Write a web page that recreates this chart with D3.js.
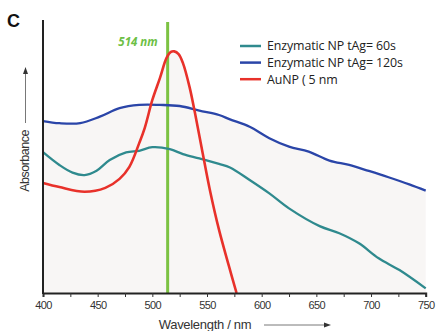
<!DOCTYPE html>
<html>
<head>
<meta charset="utf-8">
<script src="https://cdn.jsdelivr.net/npm/d3@7"></script>
<style>
  body { margin: 0; background: #fff; }
  svg { display: block; }
  text { font-family: "Open Sans", "Noto Sans", sans-serif; }
</style>
</head>
<body>
<script>
var width = 438, height = 331;
var margin = {top: 20, right: 12, bottom: 38, left: 43};

// wavelength (nm) / absorbance (a.u.)
var wl60 = [400, 415, 427, 438, 449, 461, 476, 488, 500, 516, 528, 543, 561, 571, 589, 607, 625, 653, 671, 689, 707, 726, 750];
var abs60 = [51.6, 46.9, 44.1, 43.2, 44.8, 48.7, 51.5, 52.1, 53.4, 52.7, 50.9, 49.3, 47.3, 46.0, 41.4, 36.5, 31.0, 24.5, 21.9, 18.2, 12.7, 8.4, 1.7];

var wl120 = [400, 415, 434, 452, 470, 488, 507, 525, 543, 561, 571, 589, 607, 625, 643, 662, 680, 698, 716, 735, 750];
var abs120 = [63.0, 62.2, 62.2, 64.6, 67.7, 68.9, 68.9, 68.5, 66.8, 65.2, 63.6, 60.9, 56.7, 53.6, 51.8, 48.5, 46.9, 44.7, 42.4, 39.8, 37.5];

var wlAu = [400, 415, 438, 457, 470, 479, 488, 493, 500, 507, 513, 517, 520, 524, 528, 534, 539, 546, 553, 561, 570, 577];
var absAu = [40.3, 38.8, 37.1, 38.5, 41.8, 46.2, 54.9, 60.4, 70.7, 78.8, 86.1, 88.3, 88.5, 87.5, 84.2, 75.5, 65.9, 51.3, 37.0, 23.1, 9.9, 0];

var seriesNames = ["Enzymatic NP tAg= 60s", "Enzymatic NP tAg= 120s", "AuNP ( 5 nm"];
var seriesColors = ["#2f8a8e", "#2a45a8", "#e8312a"];
var xTicks = [400, 450, 500, 550, 600, 650, 700, 750];
var peakWl = 514;

var series = [
  {name: seriesNames[0], color: seriesColors[0], pts: wl60.map((w, i) => [w, abs60[i]])},
  {name: seriesNames[1], color: seriesColors[1], pts: wl120.map((w, i) => [w, abs120[i]])},
  {name: seriesNames[2], color: seriesColors[2], pts: wlAu.map((w, i) => [w, absAu[i]])}
];

var svg = d3.select("body").append("svg")
    .attr("width", width)
    .attr("height", height);

var x = d3.scaleLinear().domain([400, 750]).range([margin.left, width - margin.right - 0.3]);
var y = d3.scaleLinear().domain([0, 100]).range([height - margin.bottom, margin.top]);

var area = d3.area()
    .x(d => x(d[0]))
    .y0(y(0))
    .y1(d => y(d[1]))
    .curve(d3.curveCatmullRom);

var line = d3.line()
    .x(d => x(d[0]))
    .y(d => y(d[1]))
    .curve(d3.curveCatmullRom);

// light fill under all curves
svg.selectAll(".fill")
    .data(series)
    .enter()
    .append("path")
    .attr("class", "fill")
    .attr("d", d => area(d.pts))
    .attr("fill", "#f8f6f5");

// green marker line
svg.append("line")
    .attr("x1", x(peakWl)).attr("x2", x(peakWl))
    .attr("y1", 22).attr("y2", y(0))
    .attr("stroke", "#7cc242")
    .attr("stroke-width", 3);

svg.append("text")
    .attr("x", x(peakWl) - 10)
    .attr("y", 45.5)
    .attr("text-anchor", "end")
    .attr("fill", "#6dbf45")
    .style("font-size", "11.5px")
    .style("font-weight", "bold")
    .style("font-style", "italic")
    .text(peakWl + " nm");

svg.selectAll(".curve")
    .data(series)
    .enter()
    .append("path")
    .attr("class", "curve")
    .attr("d", d => line(d.pts))
    .attr("fill", "none")
    .attr("stroke", d => d.color)
    .attr("stroke-width", (d, i) => i == 2 ? 2.6 : 2.3);

// axes
var xAxis = d3.axisBottom(x)
    .tickValues(d3.range(400, 751, 25))
    .tickSize(4)
    .tickFormat(d => xTicks.indexOf(d) >= 0 ? d : "");

var gx = svg.append("g")
    .attr("transform", "translate(0," + y(0) + ")")
    .call(xAxis);
gx.select(".domain").attr("stroke", "#222").attr("stroke-width", 2);
gx.selectAll(".tick line").attr("stroke", "#333").attr("stroke-width", 1);
gx.selectAll(".tick text")
    .attr("y", 8)
    .attr("fill", "#333")
    .style("font-family", "'Liberation Sans', sans-serif")
    .style("font-size", "11px")
    .style("letter-spacing", "-0.6px");

svg.append("line")
    .attr("x1", margin.left).attr("x2", margin.left)
    .attr("y1", margin.top).attr("y2", y(0) + 1)
    .attr("stroke", "#222")
    .attr("stroke-width", 2);

// axis titles
svg.append("text")
    .attr("x", 205)
    .attr("y", 329)
    .attr("text-anchor", "middle")
    .attr("fill", "#333")
    .style("font-family", "'Liberation Sans', sans-serif")
    .style("font-size", "13px")
    .style("letter-spacing", "-0.3px")
    .text("Wavelength / nm");

svg.append("line")
    .attr("x1", 264).attr("x2", 326)
    .attr("y1", 325).attr("y2", 325)
    .attr("stroke", "#555").attr("stroke-width", 0.8);
svg.append("path")
    .attr("d", "M331,325 L324,322.5 L324,327.5 Z")
    .attr("fill", "#333");

svg.append("text")
    .attr("transform", "translate(29,161) rotate(-90)")
    .attr("text-anchor", "middle")
    .attr("fill", "#333")
    .style("font-family", "'Liberation Sans', sans-serif")
    .style("font-size", "12.5px")
    .style("letter-spacing", "-0.5px")
    .text("Absorbance");

svg.append("line")
    .attr("x1", 25.5).attr("x2", 25.5)
    .attr("y1", 123).attr("y2", 73)
    .attr("stroke", "#555").attr("stroke-width", 0.8);
svg.append("path")
    .attr("d", "M25.5,67 L23,74 L28,74 Z")
    .attr("fill", "#333");

svg.append("text")
    .attr("x", 7)
    .attr("y", 27)
    .attr("fill", "#111")
    .style("font-family", "'Liberation Sans', sans-serif")
    .style("font-size", "18px")
    .style("font-weight", "bold")
    .text("C");

// legend
var legend = svg.append("g")
    .attr("transform", "translate(240,46)");

legend.selectAll("line")
    .data(series)
    .enter()
    .append("line")
    .attr("x1", 0).attr("x2", 21)
    .attr("y1", (d, i) => i * 16.6)
    .attr("y2", (d, i) => i * 16.6)
    .attr("stroke", d => d.color)
    .attr("stroke-width", 2.5);

legend.selectAll("text")
    .data(series)
    .enter()
    .append("text")
    .attr("x", 27)
    .attr("y", (d, i) => i * 16.6)
    .attr("dy", "0.35em")
    .attr("fill", "#222")
    .style("font-size", "12.4px")
    .style("letter-spacing", "-0.1px")
    .text(d => d.name);
</script>
</body>
</html>
